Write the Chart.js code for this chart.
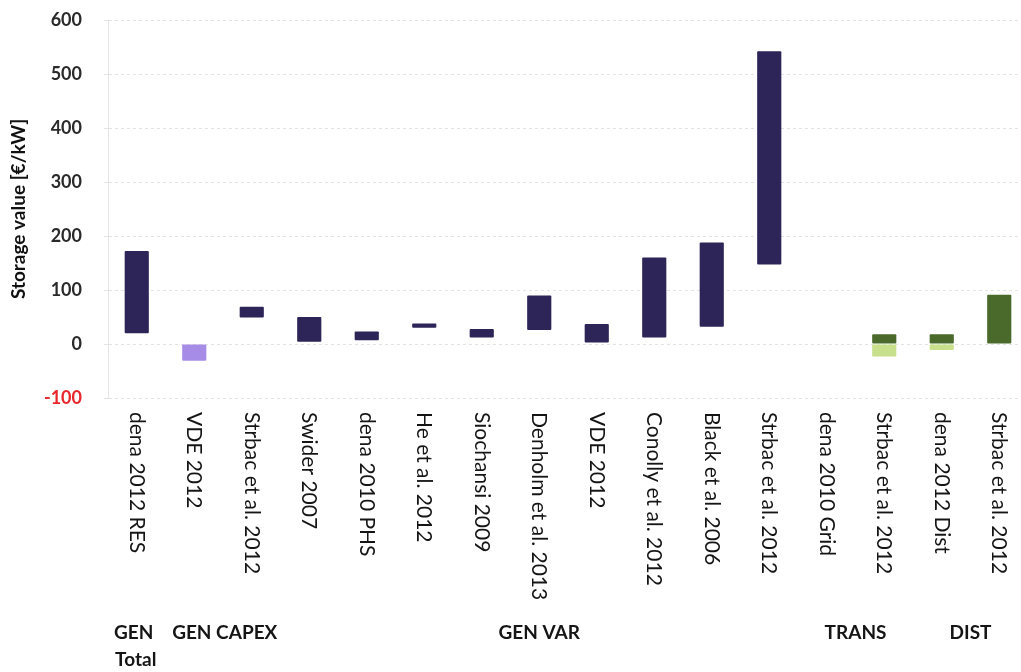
<!DOCTYPE html>
<html>
<head>
<meta charset="utf-8">
<script src="https://cdn.jsdelivr.net/npm/chart.js@4.4.1/dist/chart.umd.min.js"></script>
<style>
html,body{margin:0;padding:0;background:#fff;overflow:hidden;}
#wrap{position:relative;width:1030px;height:672px;}
</style>
</head>
<body>
<div id="wrap"><canvas id="c"></canvas></div>
<script>
const categories = ['dena 2012 RES','VDE 2012','Strbac et al. 2012','Swider 2007','dena 2010 PHS','He et al. 2012','Siochansi 2009','Denholm et al. 2013','VDE 2012','Conolly et al. 2012','Black et al. 2006','Strbac et al. 2012','dena 2010 Grid','Strbac et al. 2012','dena 2012 Dist','Strbac et al. 2012'];
const lowValues  = [20, -31, 49, 4, 7, 30, 12, 26, 3, 12, 32, 147, null, 0, 0, 0];
const highValues = [172, 0, 69, 50, 23, 38, 28, 90, 37, 160, 188, 542, null, 18, 18, 91];
const negLowValues  = [null,null,null,null,null,null,null,null,null,null,null,null,null,-23,-11,null];
const negHighValues = [null,null,null,null,null,null,null,null,null,null,null,null,null,0,0,null];
const barKinds = ['gen','capex','gen','gen','gen','gen','gen','gen','gen','gen','gen','gen','grid','net','net','net'];
const yTicks = [600,500,400,300,200,100,0,-100];
const groupLabels = ['GEN','GEN CAPEX','GEN VAR','TRANS','DIST'];
const groupPositions = [0, 1.53, 7, 12.5, 14.5];
const groupSubLabel = 'Total';

const kindColor = {gen:'#2d2458', capex:'#a68ce6', grid:'#2d2458', net:'#4a6a2b'};
const mainData = lowValues.map((v,i)=> v===null ? null : [v, highValues[i]]);
const negData = negLowValues.map((v,i)=> v===null ? null : [v, negHighValues[i]]);

const FONT = 'Lato, "Open Sans", sans-serif';

const labelPlugin = {
  id:'catLabels',
  afterDraw(chart){
    const ctx = chart.ctx, xs = chart.scales.x;
    ctx.save();
    ctx.fillStyle = '#151515';
    ctx.font = '21px ' + FONT;
    categories.forEach((c,i)=>{
      const x = xs.getPixelForValue(i);
      ctx.save();
      ctx.translate(x, 412);
      ctx.rotate(Math.PI/2);
      ctx.textAlign='left'; ctx.textBaseline='middle';
      ctx.fillText(c, 0, 0);
      ctx.restore();
    });
    ctx.font = 'bold 19px ' + FONT;
    ctx.textAlign='center'; ctx.textBaseline='middle';
    groupLabels.forEach((g,i)=>{
      const p = groupPositions[i];
      const x = xs.getPixelForValue(0) + p*(xs.getPixelForValue(1)-xs.getPixelForValue(0));
      ctx.fillText(g, x - (i===0?3:0), 633);
      if(i===0) ctx.fillText(groupSubLabel, x-1, 660);
    });
    ctx.restore();
  }
};

new Chart(document.getElementById('c'), {
  type:'bar',
  data:{
    labels: categories,
    datasets:[
      {data: mainData, backgroundColor: barKinds.map(k=>kindColor[k]), barPercentage:0.42, categoryPercentage:1, grouped:false, borderSkipped:false, borderRadius:1},
      {data: negData, backgroundColor:'#c8df8b', barPercentage:0.42, categoryPercentage:1, grouped:false, borderSkipped:false, borderRadius:1}
    ]
  },
  options:{
    responsive:true, maintainAspectRatio:false, animation:false,
    layout:{padding:{top:20, bottom:266, left:0, right:2}},
    plugins:{legend:{display:false}, tooltip:{enabled:false}},
    scales:{
      x:{
        ticks:{display:false},
        grid:{display:false},
        border:{display:false}
      },
      y:{
        min:-100, max:600,
        afterBuildTicks(s){ s.ticks = yTicks.map(v=>({value:v})); },
        afterFit(s){ s.width = 108; s.paddingTop = 0; s.paddingBottom = 0; },
        ticks:{
          color:(c)=> c.tick.value===-100 ? '#e8262b' : '#2a2a2a',
          font:{size:18, weight:'bold', family:FONT},
          padding:22
        },
        grid:{color:'rgba(0,0,0,0.11)', lineWidth:1, tickLength:4},
        border:{display:true, color:'rgba(0,0,0,0.1)', dash:[3,3]},
        title:{display:true, text:'Storage value [€/kW]', font:{size:19, weight:'bold', family:FONT}, color:'#111', padding:{top:7,bottom:0}}
      }
    }
  },
  plugins:[labelPlugin]
});
</script>
</body>
</html>
